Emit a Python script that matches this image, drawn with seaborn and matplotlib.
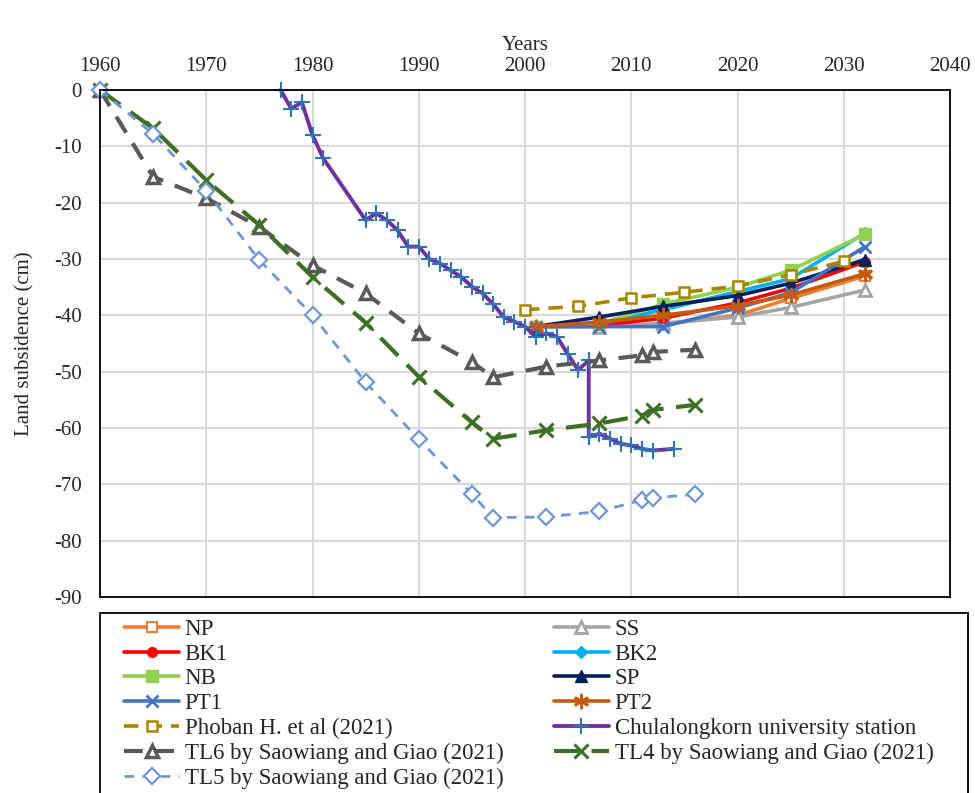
import numpy as np
import pandas as pd
import seaborn as sns
import matplotlib.pyplot as plt
from matplotlib.patches import Rectangle

# projection stations (2001 -> 2032)
proj_years = [2001, 2007, 2013, 2020, 2025, 2032]
np_vals = [-42.0, -42.0, -41.6, -40.0, -37.0, -33.0]
ss_vals = [-42.0, -42.0, -41.4, -40.3, -38.6, -35.5]
bk1_vals = [-42.0, -41.8, -40.5, -37.8, -35.2, -30.5]
bk2_vals = [-42.0, -41.5, -39.0, -35.8, -33.5, -25.4]
nb_vals = [-42.0, -41.5, -38.0, -35.0, -32.0, -25.6]
sp_vals = [-42.0, -40.3, -38.4, -36.5, -34.3, -30.1]
pt1_vals = [-42.0, -42.0, -42.0, -38.7, -36.0, -27.8]
pt2_vals = [-42.0, -41.2, -40.0, -38.3, -36.4, -32.6]

phoban_years = [2000, 2005, 2010, 2015, 2020, 2025, 2030]
phoban_vals = [-39.0, -38.4, -36.9, -35.9, -34.8, -32.8, -30.4]

chula_years = [1977, 1978, 1979, 1980, 1981, 1985, 1986, 1987, 1988, 1989,
               1990, 1991, 1992, 1993, 1994, 1995, 1996, 1997, 1998, 1999,
               2000, 2001, 2002, 2003, 2004, 2005, 2006, 2006, 2007, 2008,
               2009, 2010, 2011, 2012, 2014]
chula_vals = [0.0, -3.3, -2.2, -8.0, -12.1, -23.1, -21.9, -23.1, -24.9, -27.8,
              -27.8, -30.0, -30.8, -32.0, -33.2, -34.9, -36.1, -38.0, -40.3, -41.1,
              -42.0, -43.8, -43.2, -43.8, -46.8, -49.7, -48.0, -61.6, -61.0, -61.9,
              -62.8, -63.1, -63.7, -64.0, -63.7]

tl_years = [1960, 1965, 1970, 1975, 1980, 1985, 1990, 1995, 1997, 2002,
            2007, 2011, 2012, 2016]
tl6_vals = [0, -15.4, -19.2, -24.3, -31.1, -36.1, -43.2, -48.3, -51.0, -49.1,
            -48.0, -47.1, -46.5, -46.1]
tl4_vals = [0, -6.8, -16.0, -24.0, -33.2, -41.3, -50.9, -59.0, -61.9, -60.4,
            -59.2, -57.8, -56.8, -55.9]
tl5_vals = [0, -7.8, -17.9, -30.2, -40.0, -51.9, -62.0, -71.7, -75.9, -75.8,
            -74.8, -72.8, -72.4, -71.8]

font_list = ["Liberation Serif", "DejaVu Serif"]

sns.set_style("white")
plt.rcParams["font.family"] = font_list
plt.rcParams["axes.unicode_minus"] = False

W, H = 975, 793
fig = plt.figure(figsize=(9.75, 7.93), dpi=100)
ax = fig.add_axes([100 / W, 1 - 597 / H, 850 / W, 507 / H])

series = [
    ("NP", proj_years, np_vals, dict(color="#ED7D31", marker="s", markersize=7,
                                     markerfacecolor="white", markeredgecolor="#ED7D31",
                                     markeredgewidth=1.5, linewidth=2.6)),
    ("SS", proj_years, ss_vals, dict(color="#A5A5A5", marker="^", markersize=8,
                                     markerfacecolor="white", markeredgecolor="#A5A5A5",
                                     markeredgewidth=2, linewidth=2.6)),
    ("BK1", proj_years, bk1_vals, dict(color="#FF0000", marker="o", markersize=7,
                                       markerfacecolor="#FF0000", markeredgecolor="#FF0000",
                                       markeredgewidth=1, linewidth=2.6)),
    ("BK2", proj_years, bk2_vals, dict(color="#00B0F0", marker="D", markersize=6,
                                       markerfacecolor="#00B0F0", markeredgecolor="#00B0F0",
                                       markeredgewidth=1, linewidth=2.6)),
    ("NB", proj_years, nb_vals, dict(color="#92D050", marker="s", markersize=8,
                                     markerfacecolor="#92D050", markeredgecolor="#92D050",
                                     markeredgewidth=1, linewidth=2.6)),
    ("SP", proj_years, sp_vals, dict(color="#002060", marker="^", markersize=8,
                                     markerfacecolor="#002060", markeredgecolor="#002060",
                                     markeredgewidth=1, linewidth=2.6)),
    ("PT1", proj_years, pt1_vals, dict(color="#4472C4", marker="x", markersize=9,
                                       markeredgecolor="#4472C4", markeredgewidth=2,
                                       linewidth=2.6)),
    ("PT2", proj_years, pt2_vals, dict(color="#C55A11", marker=(6, 2, 0), markersize=11,
                                       markeredgecolor="#C55A11", markeredgewidth=2,
                                       linewidth=2.6)),
    ("Phoban H. et al (2021)", phoban_years, phoban_vals,
     dict(color="#A88600", marker="s", markersize=7, markerfacecolor="white",
          markeredgecolor="#A88600", markeredgewidth=1.8, linewidth=2.6,
          linestyle=(0, (4, 2.5)))),
    ("Chulalongkorn university station", chula_years, chula_vals,
     dict(color="#7030A0", marker="+", markersize=12, markeredgecolor="#2E75B6",
          markeredgewidth=1.5, linewidth=2.8)),
    ("TL6 by Saowiang and Giao (2021)", tl_years, tl6_vals,
     dict(color="#595959", marker="^", markersize=9, markerfacecolor="white",
          markeredgecolor="#595959", markeredgewidth=2.5, linewidth=3,
          linestyle=(0, (4.5, 3)))),
    ("TL4 by Saowiang and Giao (2021)", tl_years, tl4_vals,
     dict(color="#3F6F25", marker="x", markersize=10, markeredgecolor="#3F6F25",
          markeredgewidth=2.2, linewidth=3, linestyle=(0, (6, 3)))),
    ("TL5 by Saowiang and Giao (2021)", tl_years, tl5_vals,
     dict(color="#6F96D8", marker="D", markersize=8, markerfacecolor="white",
          markeredgecolor="#6F96D8", markeredgewidth=1.6, linewidth=2,
          linestyle=(0, (3.5, 3)))),
]

for label, xs, ys, style in series:
    df = pd.DataFrame({"year": xs, "value": ys})
    sns.lineplot(data=df, x="year", y="value", ax=ax, label=label,
                 estimator=None, sort=False, errorbar=None, clip_on=False, **style)

ax.set_xlim(1960, 2040)
ax.set_ylim(-90, 0)
ax.set_xticks(np.arange(1960, 2041, 10))
ax.set_yticks(np.arange(-90, 1, 10))
ax.xaxis.tick_top()
ax.xaxis.set_label_position("top")
ax.tick_params(axis="both", length=0, labelsize=15)
ax.tick_params(axis="x", pad=10)
ax.tick_params(axis="y", pad=13)
ax.set_xlabel("Years", fontsize=15, labelpad=5)
ax.set_ylabel("Land subsidence (cm)", fontsize=15, labelpad=14)
ax.grid(True, color="#D9D9D9", linewidth=1.5)
for sp in ax.spines.values():
    sp.set_visible(True)
    sp.set_color("black")
    sp.set_linewidth(1.3)

handles, labels = ax.get_legend_handles_labels()
ax.get_legend().remove()
order = [0, 2, 4, 6, 8, 10, 12, 1, 3, 5, 7, 9, 11]
leg = fig.legend([handles[i] for i in order], [labels[i] for i in order],
                 loc="upper left", bbox_to_anchor=(124 / W, 1 - 619 / H),
                 ncol=2, fontsize=16.5, frameon=False, borderaxespad=0, borderpad=0,
                 handlelength=2.4, handletextpad=0.25, labelspacing=0.16,
                 columnspacing=2.2)

# legend box (runs off the bottom of the figure, as in the source)
fig.patches.append(Rectangle((100 / W, -0.1), 868 / W, (H - 613) / H + 0.1,
                             transform=fig.transFigure, fill=False,
                             edgecolor="black", linewidth=1.3))

plt.savefig("out.png", dpi=100)
plt.close()
